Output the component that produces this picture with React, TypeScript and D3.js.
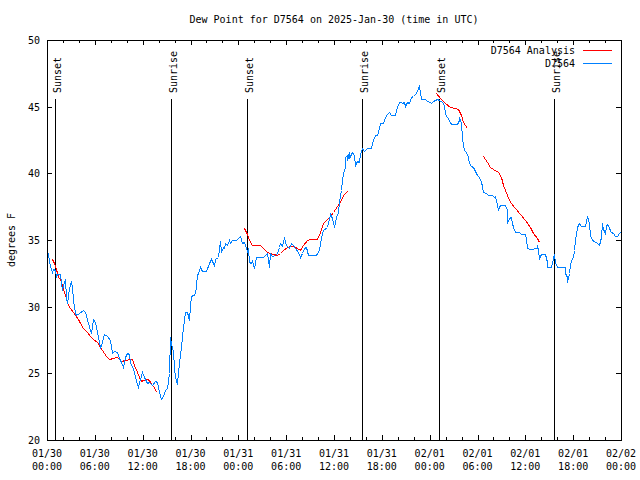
import React from "react";
import * as d3 from "d3";

const title = "Dew Point for D7564 on 2025-Jan-30 (time in UTC)";
const yLabel = "degrees F";
const xDomain = [0, 72];
const yDomain = [20, 50];
const yTicks = [20, 25, 30, 35, 40, 45, 50];
const xMajorTicks = [0, 6, 12, 18, 24, 30, 36, 42, 48, 54, 60, 66, 72];
const xDateLabels = ["01/30", "01/30", "01/30", "01/30", "01/31", "01/31", "01/31", "01/31", "02/01", "02/01", "02/01", "02/01", "02/02"];
const xTimeLabels = ["00:00", "06:00", "12:00", "18:00", "00:00", "06:00", "12:00", "18:00", "00:00", "06:00", "12:00", "18:00", "00:00"];

const eventHours = [1.0, 15.55, 25.09, 39.5, 49.17, 63.6];
const eventNames = ["Sunset", "Sunrise", "Sunset", "Sunrise", "Sunset", "Sunrise"];

const seriesNames = ["D7564 Analysis", "D7564"];
const seriesColors = ["#ff0000", "#0080ff"];

// Observations (hours since 01/30 00:00 UTC, dew point °F)
const obsHours = [
  0.13, 0.29, 0.63, 0.79, 1.04, 1.13, 1.29, 1.63, 1.88, 2.04, 2.22, 2.38, 2.55, 2.8, 2.97, 3.14, 3.3, 3.47, 3.64, 4.05,
  4.55, 4.8, 5.14, 5.39, 5.56, 5.73, 5.98, 6.31, 6.65, 6.81, 7.15, 7.49, 7.9, 8.15, 8.4, 8.74, 8.99, 9.32, 9.5, 9.75,
  10.0, 10.25, 10.41, 10.75, 11.08, 11.41, 11.67, 11.92, 12.17, 12.51, 12.83, 13.17, 13.51, 13.76, 14.01, 14.26, 14.51, 14.76, 15.01, 15.27,
  15.43, 15.59, 15.77, 15.93, 16.09, 16.27, 16.43, 16.6, 16.77, 16.93, 17.1, 17.27, 17.52, 17.77, 17.94, 18.1, 18.53, 18.78, 18.94, 19.19,
  19.44, 19.94, 20.28, 20.53, 20.78, 20.95, 21.11, 21.45, 21.7, 21.86, 22.04, 22.2, 22.37, 22.62, 22.79, 22.95, 23.2, 23.71, 24.21, 24.46,
  24.71, 25.05, 25.21, 25.38, 25.55, 25.71, 25.97, 26.22, 27.13, 27.38, 27.63, 27.81, 27.97, 28.22, 28.64, 28.81, 29.06, 29.23, 29.48, 29.73,
  29.98, 30.32, 30.57, 30.9, 31.15, 31.48, 31.74, 31.99, 32.24, 32.49, 32.74, 33.74, 34.08, 34.41, 34.66, 35.09, 35.34, 35.5, 35.75, 36.0,
  36.25, 36.5, 36.67, 36.84, 37.0, 37.17, 37.34, 37.42, 37.59, 37.67, 37.84, 37.92, 38.09, 38.26, 38.51, 38.67, 38.85, 39.1, 39.26, 39.51,
  39.76, 40.1, 40.6, 40.85, 41.1, 41.36, 41.61, 41.77, 42.18, 42.44, 42.69, 42.94, 43.19, 43.69, 43.94, 44.12, 44.37, 44.53, 44.78, 44.94,
  45.19, 45.37, 45.62, 45.87, 46.12, 46.37, 46.54, 46.7, 46.88, 47.45, 47.7, 48.04, 48.2, 48.38, 48.96, 49.21, 49.55, 49.8, 49.89, 50.05,
  50.3, 50.55, 50.8, 51.39, 51.64, 51.72, 51.89, 52.06, 52.14, 52.31, 52.56, 52.81, 52.9, 53.15, 53.4, 53.65, 53.9, 54.15, 54.4, 54.56,
  54.73, 55.07, 55.32, 55.82, 56.07, 56.23, 56.41, 56.57, 56.73, 56.91, 57.49, 57.66, 57.74, 57.91, 58.16, 58.33, 58.49, 58.74, 59.17, 59.42,
  59.92, 60.08, 60.25, 60.59, 61.43, 61.5, 61.59, 61.75, 62.0, 62.5, 62.68, 62.75, 63.26, 63.43, 63.6, 63.76, 64.01, 64.94, 65.01, 65.19,
  65.26, 65.44, 65.6, 65.77, 65.94, 66.1, 66.27, 66.44, 66.69, 66.94, 67.45, 67.61, 67.77, 67.95, 68.11, 68.36, 68.61, 68.95, 69.2, 69.45,
  69.62, 69.78, 69.96, 70.12, 70.28, 70.46, 70.62, 70.78, 71.03, 71.28, 71.45, 71.7, 71.87,
];
const obsDew = [
  34.0, 33.37, 32.62, 32.8, 32.75, 32.25, 32.45, 32.45, 31.25, 31.6, 32.05, 30.75, 30.3, 31.38, 31.95, 31.5, 30.5, 29.5, 29.38, 29.55,
  29.75, 29.62, 28.75, 28.25, 28.0, 29.05, 28.87, 28.12, 27.0, 27.12, 27.95, 27.8, 27.5, 26.5, 26.7, 26.62, 26.12, 25.87, 25.5, 26.25,
  26.5, 26.45, 25.75, 25.38, 24.75, 24.0, 24.55, 25.12, 24.75, 24.25, 24.37, 24.12, 24.45, 24.37, 23.62, 23.05, 23.3, 23.75, 23.87, 25.0,
  27.75, 27.25, 26.62, 25.5, 24.75, 24.2, 25.12, 25.75, 27.0, 27.75, 28.5, 29.62, 29.62, 29.0, 30.12, 30.8, 30.95, 32.38, 32.5, 33.0,
  32.7, 32.7, 33.25, 33.55, 33.25, 33.07, 33.55, 33.7, 34.95, 34.12, 34.5, 34.38, 34.75, 34.62, 35.0, 34.8, 35.0, 35.0, 35.3, 34.75,
  34.87, 34.2, 34.38, 33.37, 33.25, 33.45, 32.88, 33.7, 33.75, 33.87, 34.05, 33.0, 34.0, 33.8, 33.87, 34.0, 34.5, 34.75, 34.55, 35.12,
  34.62, 34.38, 34.75, 34.62, 34.38, 34.12, 33.75, 34.0, 34.38, 34.5, 33.87, 33.87, 34.25, 35.25, 35.75, 35.95, 36.55, 36.95, 36.62, 35.95,
  36.75, 37.12, 37.87, 38.75, 39.5, 40.0, 40.5, 41.25, 41.38, 41.0, 41.62, 41.12, 41.45, 41.62, 41.38, 40.62, 40.95, 40.87, 41.45, 41.87,
  41.7, 41.87, 41.87, 42.5, 42.87, 42.87, 43.38, 43.75, 43.8, 44.25, 44.45, 44.62, 44.38, 44.38, 45.0, 45.38, 45.38, 45.25, 45.33, 45.05,
  45.38, 45.25, 45.75, 45.8, 45.95, 46.2, 46.38, 46.55, 45.55, 45.55, 45.45, 45.38, 45.25, 45.45, 45.55, 45.5, 45.38, 45.12, 44.5, 44.3,
  44.12, 43.8, 43.7, 43.7, 44.0, 44.2, 43.75, 42.75, 42.12, 41.75, 41.62, 41.25, 40.75, 40.55, 40.45, 40.2, 39.87, 39.7, 39.37, 39.05,
  38.62, 38.55, 38.38, 38.38, 38.25, 38.3, 37.62, 37.25, 37.55, 37.62, 37.62, 37.25, 36.3, 36.62, 36.7, 36.3, 36.0, 35.62, 35.62, 35.45,
  35.45, 35.05, 34.38, 34.3, 34.38, 34.62, 34.25, 33.62, 33.95, 33.95, 33.37, 32.95, 32.95, 33.62, 33.95, 33.37, 32.95, 32.95, 32.5, 32.25,
  31.87, 32.55, 33.12, 33.5, 33.7, 34.25, 35.0, 36.0, 36.3, 36.05, 36.05, 36.45, 36.8, 36.3, 35.38, 35.0, 34.95, 34.8, 34.62, 35.25,
  36.3, 35.8, 35.55, 36.05, 36.2, 36.0, 35.7, 35.62, 35.55, 35.3, 35.3, 35.55, 35.62,
];

// Analysis (null separates gaps)
const anaHours = [
  0.66, 0.88, 1.13, 1.38, 1.63, 1.88, 2.13, 2.38, 2.63, 2.89, 3.22, 3.55, 3.89, 4.14, 4.55, 4.98, 5.39, 5.81, 6.23, 6.65,
  7.15, 7.4, 7.74, 8.32, 8.66, 8.99, 9.32, 9.82, 10.41, 10.66, 10.91, 11.25, 11.58, 11.75, 12.08, 12.51, 12.76, 13.08, 13.42, 13.67,
  null,
  24.75, 25.05, 25.38, 25.71, 26.72, 27.13, 27.56, 27.97, 28.39, 28.81, 29.23, 29.64, 30.07, 30.48, 30.9, 31.32, 31.74, 32.15, 32.58, 32.99,
  33.83, 34.24, 34.66, 35.09, 35.5, 35.91, 36.34, 36.75, 37.17, 37.67,
  null,
  48.79, 49.29, 49.92, 50.55, 51.17, 51.59, 51.89, 52.22, 52.72,
  null,
  54.73, 55.15, 55.57, 55.98, 56.61, 56.91, 57.24, 57.66, 58.08, 58.7, 59.33, 59.96, 60.59, 61.0, 61.43, 61.75,
];
const anaDew = [
  33.55, 33.25, 32.8, 32.25, 32.05, 31.62, 31.12, 30.62, 30.12, 29.88, 29.62, 29.38, 29.05, 28.8, 28.38, 28.12, 27.8, 27.55, 27.38, 27.0,
  26.55, 26.3, 26.1, 26.12, 26.2, 26.12, 25.92, 26.0, 26.05, 26.05, 25.62, 25.12, 24.75, 24.45, 24.5, 24.55, 24.5, 24.2, 23.95, 23.62,
  null,
  35.88, 35.45, 35.0, 34.62, 34.62, 34.38, 34.12, 34.0, 33.95, 33.88, 34.05, 34.25, 34.45, 34.55, 34.55, 34.38, 34.25, 34.62, 35.0, 35.05,
  35.05, 35.62, 36.25, 36.55, 36.8, 37.12, 37.55, 37.88, 38.38, 38.7,
  null,
  46.05, 45.62, 45.25, 45.0, 44.88, 44.8, 44.38, 43.88, 43.38,
  null,
  41.3, 40.88, 40.45, 40.3, 40.12, 39.75, 39.12, 38.38, 37.88, 37.38, 36.95, 36.5, 36.0, 35.55, 35.12, 34.88,
];

const W = 640;
const H = 480;
const M = { left: 47, right: 621, top: 40, bottom: 440 };
const FONT = "'DejaVu Sans Mono', monospace";

export default function App() {
  const x = d3.scaleLinear().domain(xDomain).range([M.left, M.right]);
  const y = d3.scaleLinear().domain(yDomain).range([M.bottom, M.top]);

  const obs = obsHours.map((h, i) => [h, obsDew[i]] as [number, number]);
  const ana = anaHours.map((h, i) => [h, anaDew[i]] as [any, any]);

  const line = d3
    .line<[any, any]>()
    .defined((d) => d[0] != null && d[1] != null)
    .x((d) => Math.round(x(d[0])) + 0.5)
    .y((d) => Math.round(y(d[1])) + 0.5);

  const minorTicks = d3.range(xDomain[0], xDomain[1] + 0.001, 2).filter((t) => t % 6 !== 0);
  const px = (v: number) => Math.round(v) + 0.5;

  return (
    <svg
      width={W}
      height={H}
      style={{ position: "absolute", left: 0, top: 0, background: "#fff" }}
      fontFamily={FONT}
      fontSize={10}
    >
      <rect x={0} y={0} width={W} height={H} fill="#fff" />
      <text x={(M.left + M.right) / 2} y={23} textAnchor="middle" fill="#000">
        {title}
      </text>

      {/* y ticks */}
      {yTicks.map((t) => (
        <g key={"y" + t}>
          <line x1={M.left} x2={M.left + 5} y1={px(y(t))} y2={px(y(t))} stroke="#000" shapeRendering="crispEdges" />
          <line x1={M.right - 5} x2={M.right} y1={px(y(t))} y2={px(y(t))} stroke="#000" shapeRendering="crispEdges" />
          <text x={40} y={y(t) + 4} textAnchor="end" fill="#000">
            {t}
          </text>
        </g>
      ))}

      {/* x ticks */}
      {xMajorTicks.map((t, i) => (
        <g key={"x" + t}>
          <line x1={px(x(t))} x2={px(x(t))} y1={M.bottom} y2={M.bottom - 5} stroke="#000" shapeRendering="crispEdges" />
          <line x1={px(x(t))} x2={px(x(t))} y1={M.top} y2={M.top + 5} stroke="#000" shapeRendering="crispEdges" />
          <text x={x(t)} y={457} textAnchor="middle" fill="#000">
            {xDateLabels[i]}
          </text>
          <text x={x(t)} y={470} textAnchor="middle" fill="#000">
            {xTimeLabels[i]}
          </text>
        </g>
      ))}
      {minorTicks.map((t) => (
        <g key={"m" + t}>
          <line x1={px(x(t))} x2={px(x(t))} y1={M.bottom} y2={M.bottom - 3} stroke="#000" shapeRendering="crispEdges" />
          <line x1={px(x(t))} x2={px(x(t))} y1={M.top} y2={M.top + 3} stroke="#000" shapeRendering="crispEdges" />
        </g>
      ))}

      <text
        transform={`translate(11,240) rotate(-90)`}
        textAnchor="middle"
        dominantBaseline="central"
        fill="#000"
      >
        {yLabel}
      </text>

      {/* sunrise/sunset markers */}
      {eventHours.map((h, i) => (
        <g key={"e" + i}>
          <line x1={px(x(h))} x2={px(x(h))} y1={99} y2={M.bottom} stroke="#000" shapeRendering="crispEdges" />
          <text
            transform={`translate(${x(h) + 2.5},93) rotate(-90)`}
            textAnchor="start"
            dominantBaseline="central"
            fill="#000"
          >
            {eventNames[i]}
          </text>
        </g>
      ))}

      {/* data */}
      <path d={line(ana) || ""} fill="none" stroke={seriesColors[0]} strokeWidth={1} shapeRendering="crispEdges" />
      <path d={line(obs as any) || ""} fill="none" stroke={seriesColors[1]} strokeWidth={1} shapeRendering="crispEdges" />

      {/* legend */}
      {seriesNames.map((n, i) => (
        <g key={"l" + i}>
          <text x={575} y={54 + i * 13} textAnchor="end" fill="#000">
            {n}
          </text>
          <line x1={583} x2={612} y1={50.5 + i * 13} y2={50.5 + i * 13} stroke={seriesColors[i]} shapeRendering="crispEdges" />
        </g>
      ))}

      <rect
        x={M.left + 0.5}
        y={M.top + 0.5}
        width={M.right - M.left}
        height={M.bottom - M.top}
        fill="none"
        stroke="#000"
        shapeRendering="crispEdges"
      />
    </svg>
  );
}
